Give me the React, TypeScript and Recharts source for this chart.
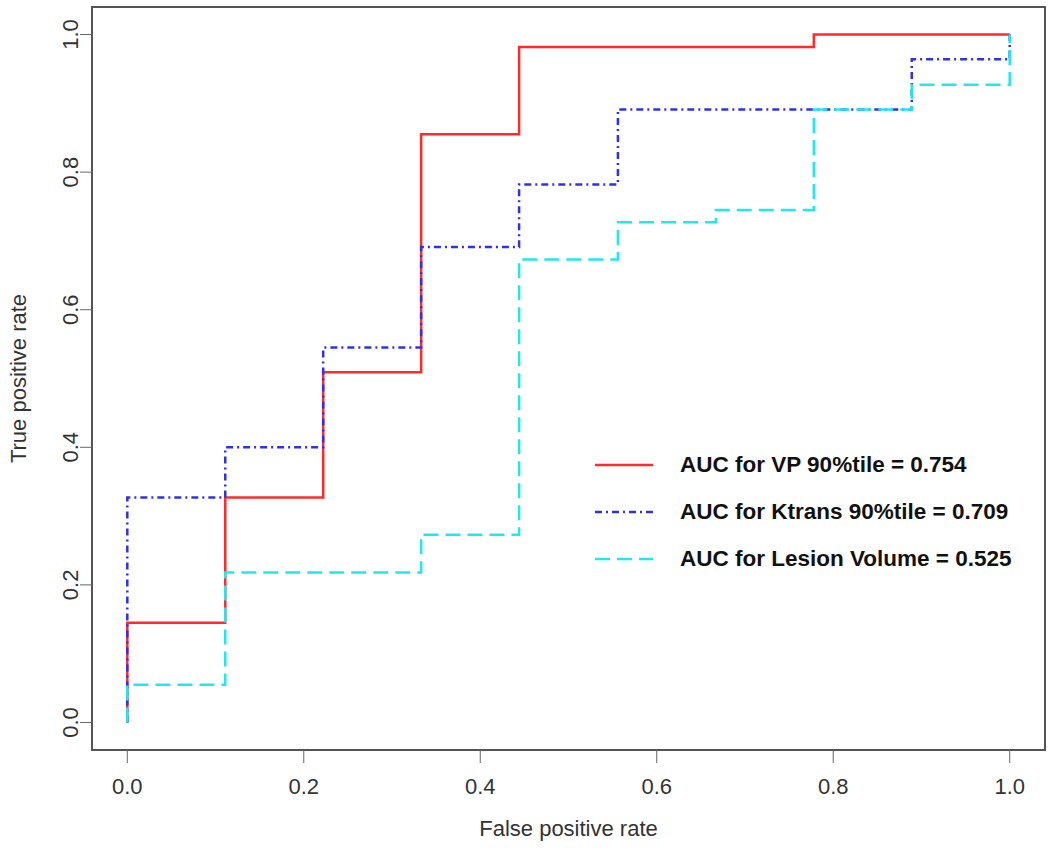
import React from "react";
import {
  Label,
  Legend,
  Line,
  LineChart,
  ReferenceArea,
  XAxis,
  YAxis,
} from "recharts";

// ROC steps (FPR in ninths, TPR in 55ths)
const vpFpr = [0, 0, 0.111, 0.222, 0.333, 0.444, 0.778, 1.0];
const vpTpr = [0, 0.145, 0.327, 0.509, 0.855, 0.982, 1.0, 1.0];

const ktransFpr = [0, 0, 0.111, 0.222, 0.333, 0.444, 0.556, 0.889, 1.0];
const ktransTpr = [0, 0.327, 0.4, 0.545, 0.691, 0.782, 0.891, 0.964, 1.0];

const lesionFpr = [0, 0, 0.111, 0.333, 0.444, 0.556, 0.667, 0.778, 0.889, 1.0];
const lesionTpr = [0, 0.055, 0.218, 0.273, 0.673, 0.727, 0.745, 0.891, 0.927, 1.0];

const axisTicks = [0, 0.2, 0.4, 0.6, 0.8, 1.0];
const domain: [number, number] = [-0.04, 1.04];

const seriesNames = [
  "AUC for VP 90%tile = 0.754",
  "AUC for Ktrans 90%tile = 0.709",
  "AUC for Lesion Volume = 0.525",
];

const FONT = "'Liberation Sans', Arial, sans-serif";

const toPoints = (fpr: number[], tpr: number[]) =>
  fpr.map((x, i) => ({ fpr: x, tpr: tpr[i] }));

const series = [
  { name: seriesNames[0], data: toPoints(vpFpr, vpTpr), color: "#ff2b2b", dash: undefined },
  { name: seriesNames[1], data: toPoints(ktransFpr, ktransTpr), color: "#3030e8", dash: "7 4 2 4" },
  { name: seriesNames[2], data: toPoints(lesionFpr, lesionTpr), color: "#22e8ee", dash: "15 7" },
];

const YTick = ({ x, y, payload }: any) => (
  <text
    x={x}
    y={y}
    transform={`rotate(-90 ${x} ${y})`}
    textAnchor="middle"
    fontSize={22}
    fontFamily={FONT}
    fill="#333"
  >
    {Number(payload.value).toFixed(1)}
  </text>
);

const YTitle = ({ viewBox }: any) => {
  const cx = viewBox.x + 26;
  const cy = viewBox.y + viewBox.height / 2;
  return (
    <text
      x={cx}
      y={cy}
      transform={`rotate(-90 ${cx} ${cy})`}
      textAnchor="middle"
      fontSize={22}
      fontFamily={FONT}
      fill="#333"
    >
      True positive rate
    </text>
  );
};

const LegendBox = () => (
  <div style={{ fontFamily: FONT }}>
    {series.map((s) => (
      <div key={s.name} style={{ display: "flex", alignItems: "center", height: 47 }}>
        <svg width={58} height={10} style={{ marginRight: 27 }}>
          <line
            x1={0}
            y1={5}
            x2={58}
            y2={5}
            stroke={s.color}
            strokeWidth={2.5}
            strokeDasharray={s.dash}
          />
        </svg>
        <span style={{ fontSize: 22.5, fontWeight: "bold", color: "#111", whiteSpace: "nowrap" }}>
          {s.name}
        </span>
      </div>
    ))}
  </div>
);

export default function App() {
  return (
    <div style={{ position: "absolute", left: 0, top: 0, background: "#fff" }}>
      <LineChart width={1050} height={848} margin={{ top: 7, right: 5, bottom: 0, left: 0 }}>
        <XAxis
          dataKey="fpr"
          type="number"
          domain={domain}
          ticks={axisTicks}
          allowDataOverflow
          axisLine={false}
          tickSize={13}
          tickMargin={15}
          height={98}
          stroke="#666"
          tick={{ fontSize: 22, fontFamily: FONT, fill: "#333" }}
          tickFormatter={(v: number) => v.toFixed(1)}
        >
          <Label
            value="False positive rate"
            position="insideBottom"
            offset={12}
            style={{ fontSize: 22, fontFamily: FONT, fill: "#333" }}
          />
        </XAxis>
        <YAxis
          dataKey="tpr"
          type="number"
          domain={domain}
          ticks={axisTicks}
          allowDataOverflow
          axisLine={false}
          tickSize={12}
          tickMargin={2}
          width={92}
          stroke="#666"
          tick={<YTick />}
        >
          <Label content={<YTitle />} />
        </YAxis>
        <ReferenceArea
          x1={domain[0]}
          x2={domain[1]}
          y1={domain[0]}
          y2={domain[1]}
          fill="none"
          stroke="#555"
          strokeWidth={2}
          ifOverflow="visible"
        />
        {series.map((s) => (
          <Line
            key={s.name}
            data={s.data}
            dataKey="tpr"
            name={s.name}
            type="stepAfter"
            stroke={s.color}
            strokeWidth={2.5}
            strokeDasharray={s.dash}
            dot={false}
            activeDot={false}
            isAnimationActive={false}
          />
        ))}
        <Legend
          layout="vertical"
          align="center"
          verticalAlign="middle"
          content={<LegendBox />}
          wrapperStyle={{ left: 595, top: 441, width: 440 }}
        />
      </LineChart>
    </div>
  );
}
